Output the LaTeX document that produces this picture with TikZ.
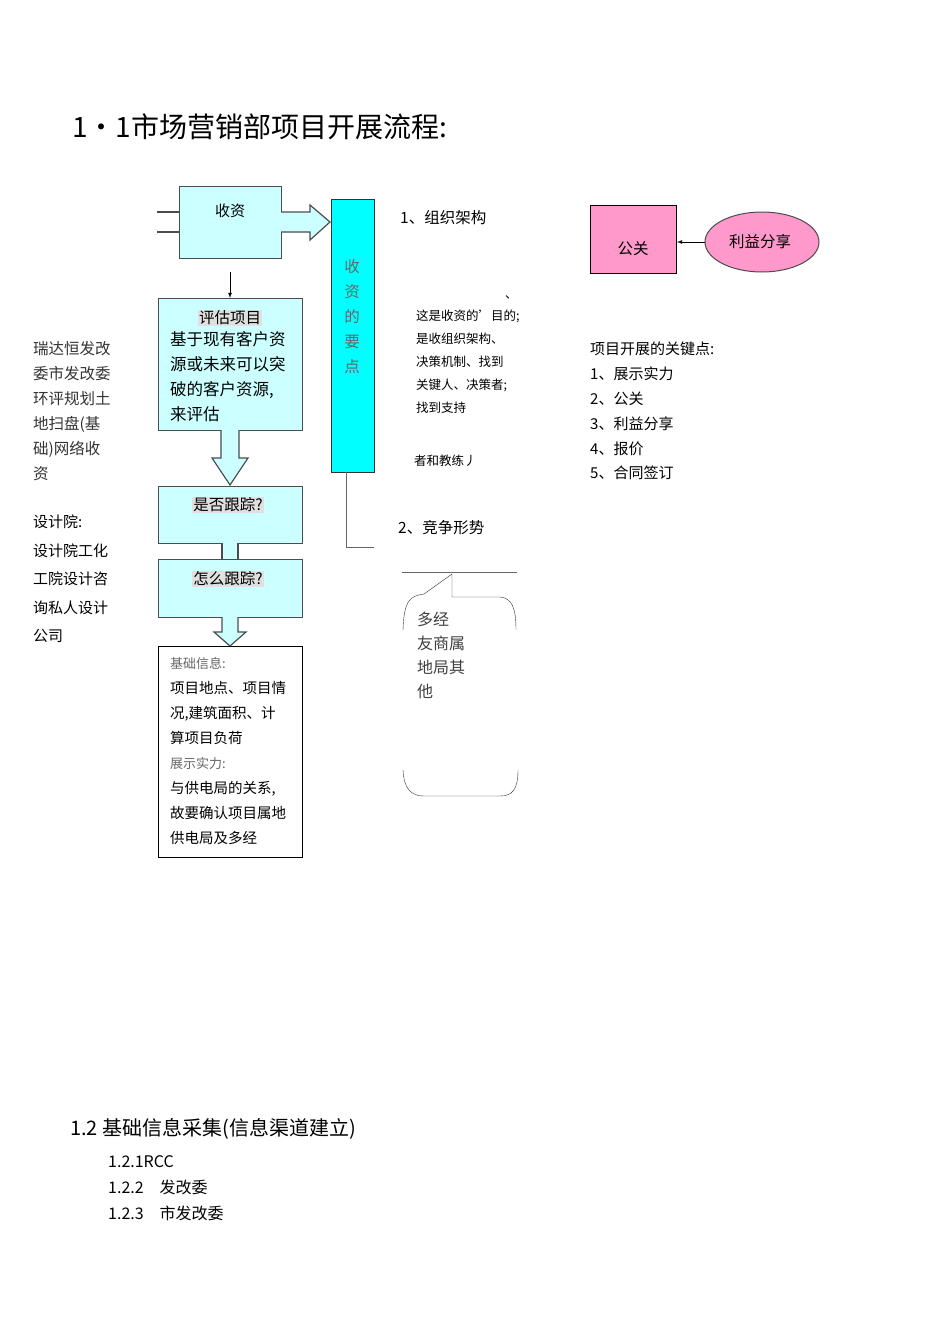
\documentclass[tikz,border=0pt]{standalone}
\usepackage{fontspec}
\usetikzlibrary{shapes.geometric}
\setmainfont{Noto Sans CJK SC}
\definecolor{pinkf}{RGB}{255,153,204}
\definecolor{lcyan}{RGB}{204,255,255}
\definecolor{fcyan}{RGB}{0,255,255}
\begin{document}
\begin{tikzpicture}[x=1pt,y=-1pt,
  cbox/.style={draw=black!70,line width=1.2pt,fill=lcyan},
  tx/.style={anchor=west,inner sep=0pt,font=\fontsize{15.5}{18}\selectfont},
  sm/.style={anchor=west,inner sep=0pt,font=\fontsize{12.5}{15}\selectfont},
  hl/.style={fill=black!12,inner sep=1pt}]
\useasboundingbox[fill=white] (0,0) rectangle (950,1344);
\node[anchor=west,inner sep=0pt,font=\fontsize{28}{32}\selectfont] (title) at (72,127) {1·1市场营销部项目开展流程:};
% shou zi box
\node[cbox,minimum width=102pt,minimum height=72pt,anchor=north west] (sz) at (179,186) {};
\node[font=\fontsize{15}{18}\selectfont] (szt) at (230,211) {收资};
\draw[black!70,line width=1.2pt] (157,212) -- (sz.west|-0,212) (157,232) -- (sz.west|-0,232);
\draw[black!70,line width=1.2pt,fill=lcyan] (281,212) -- (310,212) -- (310,205) -- (330,222) -- (310,240) -- (310,232) -- (281,232);
\coordinate (d1) at (230,272);
\node[cbox,minimum width=144pt,minimum height=132pt,anchor=north west] (pg) at (158,298) {};
\draw[-latex,thick] (d1) -- (pg.north-|d1);
\node[hl,font=\fontsize{15.5}{18}\selectfont] (pgt) at (230,318) {评估项目};
\node[anchor=north west,align=left,inner sep=0pt,font=\fontsize{16.5}{25}\selectfont] (pgb) at (170,331) {基于现有客户资\\源或未来可以突\\破的客户资源,\\来评估};
\draw[black!70,line width=1.2pt,fill=lcyan] (221,430) -- (221,458) -- (212,458) -- (230,485) -- (248,458) -- (239,458) -- (239,430);
\node[cbox,minimum width=144pt,minimum height=57pt,anchor=north west] (gz) at (158,486) {};
\node[hl,font=\fontsize{15.5}{18}\selectfont] at (228,505) {是否跟踪?};
\fill[lcyan] (222,543) rectangle (238,559);
\draw[black!70,line width=1.2pt] (222,543) -- (222,559) (238,543) -- (238,559);
\node[cbox,minimum width=144pt,minimum height=58pt,anchor=north west] (hz) at (158,559) {};
\node[hl,font=\fontsize{15.5}{18}\selectfont] at (228,579) {怎么跟踪?};
\draw[black!70,line width=1.2pt,fill=lcyan] (222,617) -- (222,632) -- (214,632) -- (230,646) -- (246,632) -- (238,632) -- (238,617);
\node[draw,line width=1.2pt,minimum width=144pt,minimum height=211pt,anchor=north west] (info) at (158,646) {};
\node[anchor=north west,align=left,inner sep=0pt,font=\fontsize{14.5}{25}\selectfont] at (170,657) {\textcolor{black!60}{\fontsize{13}{15}\selectfont 基础信息:}\\项目地点、项目情\\况,建筑面积、计\\算项目负荷\\\textcolor{black!60}{\fontsize{13}{15}\selectfont 展示实力:}\\与供电局的关系,\\故要确认项目属地\\供电局及多经};
% tall bar
\node[draw=black!80,line width=1.2pt,fill=fcyan,minimum width=43pt,minimum height=273pt,anchor=north west] (bar) at (331,199) {};
\node[align=center,font=\fontsize{15.5}{25}\selectfont,text=black!60] at (352,317) {收\\资\\的\\要\\点};
\coordinate (ce) at (374,547);
\draw[black!60] (346,472) |- (ce);
\node[tx] at (400,218) {1、组织架构};
\node[sm] at (505,297) {、};
\node[anchor=north west,align=left,inner sep=0pt,font=\fontsize{12.5}{23}\selectfont] at (416,310) {这是收资的'目的;\\是收组织架构、\\决策机制、找到\\关键人、决策者;\\找到支持};
\node[sm] at (414,461) {者和教练丿};
\node[tx] at (398,528) {2、竞争形势};
% callout
\draw[black!60,thick] (402,572) -- (517,572);
\draw[black!80] (403,630) .. controls (404,600) and (410,596) .. (424,594) -- (452,574) -- (452,597) -- (500,597) .. controls (512,598) and (516,608) .. (516,630);
\draw[black!80] (403,770) .. controls (404,790) and (412,796) .. (424,796) -- (500,796) .. controls (512,796) and (518,790) .. (518,770);
\node[anchor=north west,align=left,inner sep=0pt,font=\fontsize{16}{24}\selectfont,text=black!75] at (417,612) {多经\\友商属\\地局其\\他};
% gongguan
\node[draw,line width=1pt,fill=pinkf,minimum width=86pt,minimum height=68pt,anchor=north west] (gg) at (590,205) {};
\node[font=\fontsize{15.5}{18}\selectfont] at (633,249) {公关};
\node[draw=black!70,line width=1pt,ellipse,fill=pinkf,minimum width=114pt,minimum height=60pt] (ly) at (762,242) {};
\node[font=\fontsize{15.5}{18}\selectfont] at (760,242) {利益分享};
\draw[-latex,thick] (ly.west) -- (gg.east|-ly.west);
\node[anchor=north west,align=left,inner sep=0pt,font=\fontsize{15}{24.8}\selectfont] at (590,342) {项目开展的关键点:\\1、展示实力\\2、公关\\3、利益分享\\4、报价\\5、合同签订};
% left texts
\node[anchor=north west,align=left,inner sep=0pt,font=\fontsize{15.5}{25}\selectfont,text=black!80] at (33,341) {瑞达恒发改\\委市发改委\\环评规划土\\地扫盘(基\\础)网络收\\资};
\node[anchor=north west,align=left,inner sep=0pt,font=\fontsize{15}{28.5}\selectfont] at (33,515) {设计院:\\设计院工化\\工院设计咨\\询私人设计\\公司};
% bottom
\node[anchor=west,inner sep=0pt,font=\fontsize{20}{24}\selectfont] at (70,1129) {1.2 基础信息采集(信息渠道建立)};
\node[anchor=north west,align=left,inner sep=0pt,font=\fontsize{16}{26}\selectfont] at (108,1155) {1.2.1RCC\\1.2.2\quad 发改委\\1.2.3\quad 市发改委};
\end{tikzpicture}
\end{document}
